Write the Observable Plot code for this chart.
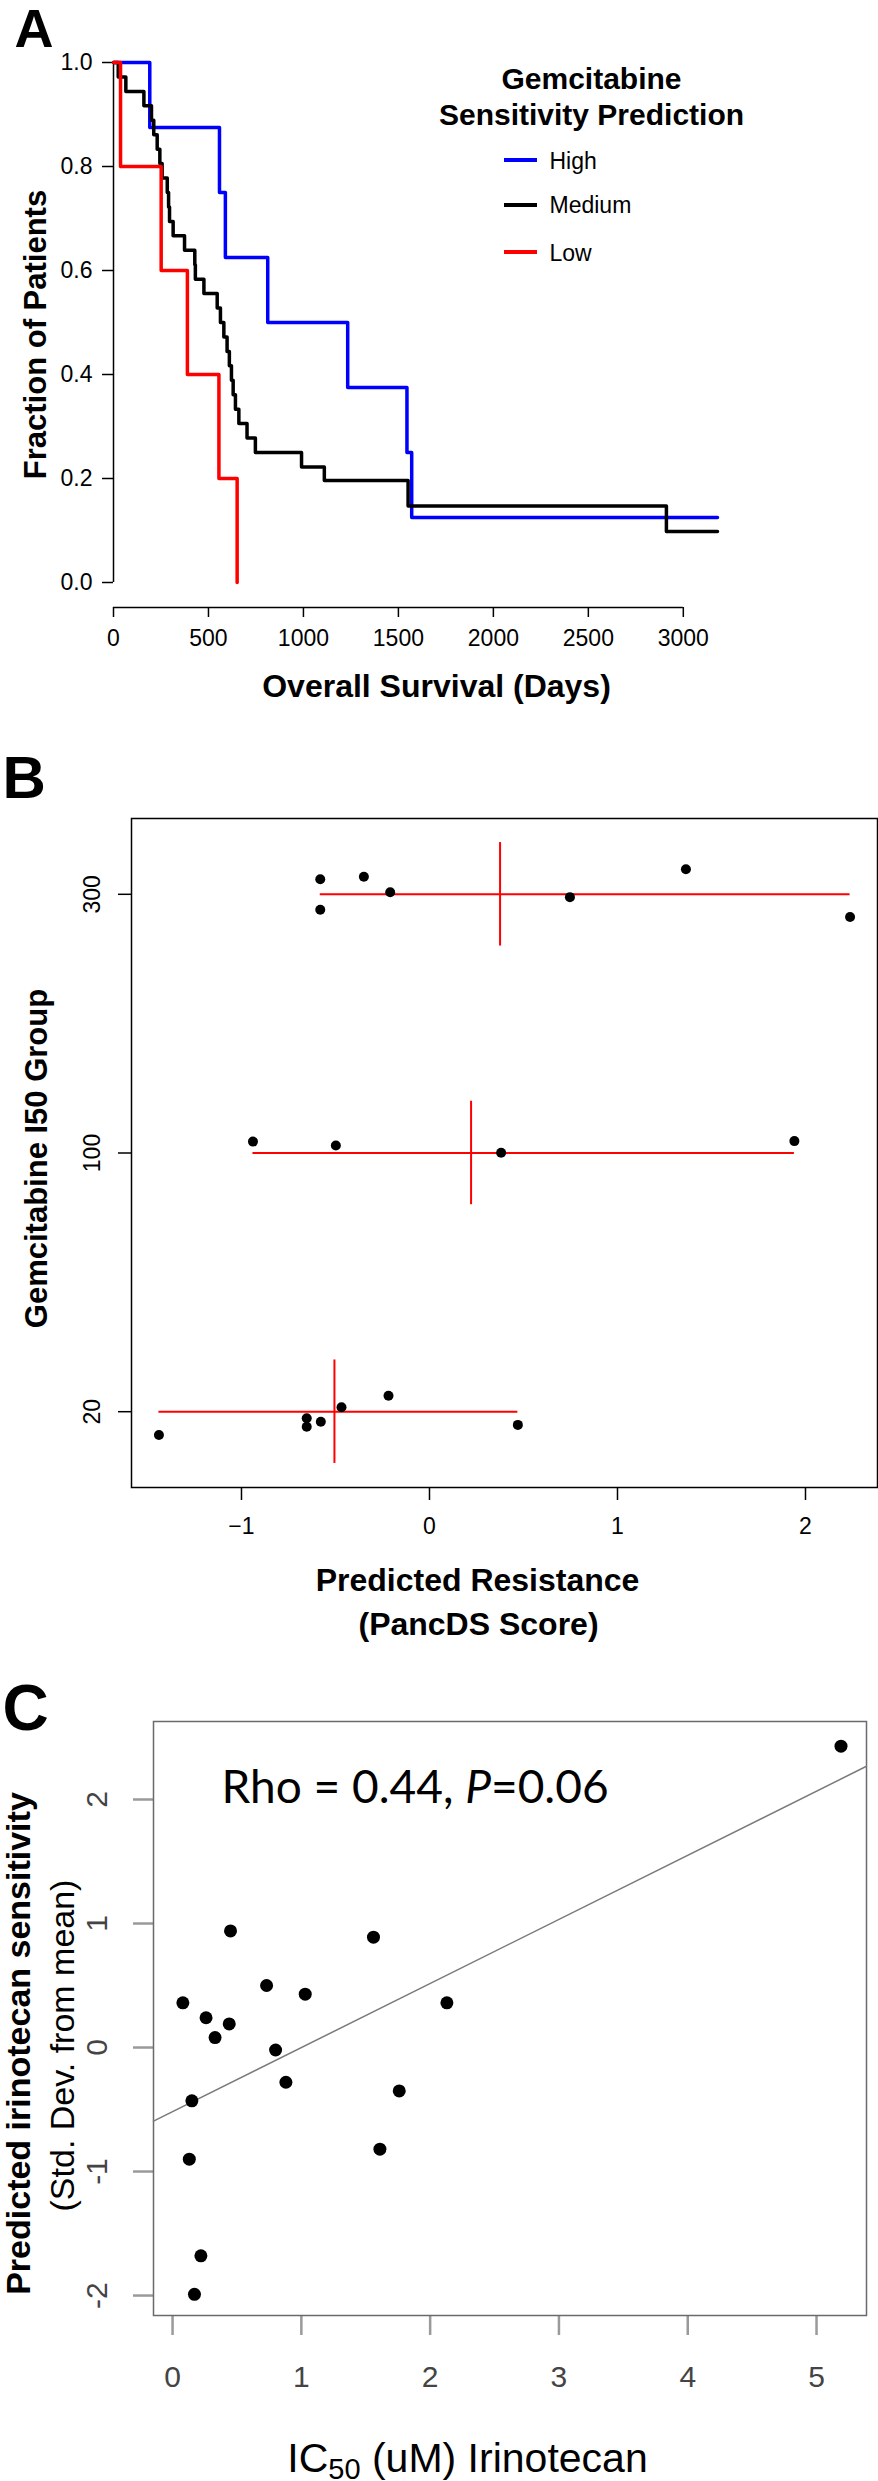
<!DOCTYPE html>
<html>
<head>
<meta charset="utf-8">
<script src="https://cdn.jsdelivr.net/npm/d3@7"></script>
<script src="https://cdn.jsdelivr.net/npm/@observablehq/plot@0.6"></script>
<style>
html, body { margin: 0; padding: 0; background: #fff; overflow: hidden; }
#page { position: relative; width: 878px; height: 2481px; overflow: hidden; background: #fff; }
.panel { position: absolute; left: 0; }
.swatch { position: absolute; height: 4px; }
</style>
</head>
<body>
<div id="page"></div>
<script>
// ---------------- Panel A: Kaplan-Meier ----------------
const kmGroups = ["High", "Medium", "Low"];
const kmColors = ["#0000ff", "#000000", "#ff0000"];
const highDays = [0, 191, 558, 589, 812, 1233, 1545, 1570, 3180];
const highSurv = [1, 0.875, 0.75, 0.625, 0.5, 0.375, 0.25, 0.125, 0.125];
const mediumDays = [0, 25, 65, 160, 200, 212, 230, 244, 256, 283, 290, 295, 314, 374, 428, 431, 476, 546, 563, 581, 598, 610, 621, 630, 642, 660, 703, 747, 990, 1110, 1551, 2911, 3180];
const mediumSurv = [1, 0.972, 0.944, 0.917, 0.889, 0.861, 0.833, 0.806, 0.778, 0.75, 0.722, 0.694, 0.667, 0.639, 0.611, 0.583, 0.556, 0.528, 0.5, 0.472, 0.444, 0.417, 0.389, 0.361, 0.333, 0.306, 0.278, 0.25, 0.222, 0.196, 0.147, 0.098, 0.098];
const lowDays = [0, 37, 251, 389, 555, 651];
const lowSurv = [1, 0.8, 0.6, 0.4, 0.2, 0];
const survivalTicks = [0, 0.2, 0.4, 0.6, 0.8, 1.0];
const dayTicks = [0, 500, 1000, 1500, 2000, 2500, 3000];

// ---------------- Panel B: Gemcitabine I50 groups ----------------
const gemGroups = ["20", "100", "300"];
const gem20Score = [-1.439, -0.653, -0.653, -0.578, -0.468, -0.218, 0.470];
const gem20Jitter = [-0.090, -0.025, -0.058, -0.039, 0.017, 0.062, -0.051];
const gem100Score = [-0.939, -0.498, 0.381, 1.941];
const gem100Jitter = [0.044, 0.029, 0.001, 0.046];
const gem300Score = [-0.581, -0.581, -0.349, -0.209, 0.747, 1.364, 2.237];
const gem300Jitter = [0.058, -0.060, 0.068, 0.008, -0.011, 0.097, -0.088];
const scoreTicks = [-1, 0, 1, 2];

// ---------------- Panel C: Irinotecan ----------------
const irinoIC50 = [0.08, 0.15, 0.13, 0.22, 0.17, 0.26, 0.33, 0.44, 0.45, 0.73, 0.80, 0.88, 1.03, 1.56, 1.61, 1.76, 2.13, 5.19];
const irinoPred = [0.36, -0.43, -0.90, -1.68, -1.99, 0.24, 0.08, 0.19, 0.94, 0.50, -0.02, -0.28, 0.43, 0.89, -0.82, -0.35, 0.36, 2.43];
const irinoXTicks = [0, 1, 2, 3, 4, 5];
const irinoYTicks = [-2, -1, 0, 1, 2];

// ---------------- helpers ----------------
const FONT = '"Liberation Sans", Arial, Helvetica, sans-serif';
const page = document.getElementById("page");
function mount(svg, top) {
  const d = document.createElement("div");
  d.className = "panel";
  d.style.top = top + "px";
  d.appendChild(svg);
  page.appendChild(d);
  return d;
}
function at(m, top, X, Y) {
  return {frameAnchor: "top-left", dx: X - m.left, dy: Y - top - m.top};
}
function label(m, top, X, Y, txt, opts) {
  return Plot.text([txt], {...at(m, top, X, Y), text: d => d, textAnchor: "middle", lineAnchor: "middle", ...opts});
}
function baseStyle() {
  return {fontFamily: FONT, fontSize: "23px", color: "#000", background: "transparent", overflow: "visible"};
}

// ================= PANEL A =================
const kmData = [];
[[highDays, highSurv], [mediumDays, mediumSurv], [lowDays, lowSurv]].forEach(([days, surv], g) => {
  days.forEach((d, i) => kmData.push({group: kmGroups[g], day: d, surv: surv[i]}));
});
const mA = {left: 113, right: 161, top: 62, bottom: 138};
const topA = 0, hA = 720;
const plotA = Plot.plot({
  width: 878, height: hA,
  marginLeft: mA.left, marginRight: mA.right, marginTop: mA.top, marginBottom: mA.bottom,
  x: {domain: [0, 3180], label: null},
  y: {domain: [0, 1], label: null},
  color: {domain: kmGroups, range: kmColors},
  style: baseStyle(),
  marks: [
    Plot.ruleX([0], {y1: 0, y2: 1, strokeWidth: 1.5}),
    Plot.axisY(survivalTicks, {tickSize: 11, tickPadding: 10, tickFormat: d => d.toFixed(1), fontSize: 23, strokeWidth: 1.5, label: null}),
    Plot.ruleY([0], {x1: 0, x2: 3000, dy: 25, strokeWidth: 1.5}),
    Plot.axisX(dayTicks, {tickSize: 10, tickPadding: 12, dy: 25, tickFormat: d => String(d), fontSize: 23, strokeWidth: 1.5, label: null}),
    Plot.line(kmData, {x: "day", y: "surv", z: "group", stroke: "group", curve: "step-after", strokeWidth: 3.5}),
    label(mA, topA, 14, 29, "A", {textAnchor: "start", fontSize: 54, fontWeight: "bold"}),
    label(mA, topA, 36, 334, "Fraction of Patients", {rotate: -90, fontSize: 31, fontWeight: "bold"}),
    label(mA, topA, 436, 686, "Overall Survival (Days)", {fontSize: 32, fontWeight: "bold"}),
    label(mA, topA, 591, 79, "Gemcitabine", {fontSize: 30, fontWeight: "bold"}),
    label(mA, topA, 591, 115, "Sensitivity Prediction", {fontSize: 30, fontWeight: "bold"}),
    label(mA, topA, 549, 161, "High", {textAnchor: "start", fontSize: 23}),
    label(mA, topA, 549, 205, "Medium", {textAnchor: "start", fontSize: 23}),
    label(mA, topA, 549, 253, "Low", {textAnchor: "start", fontSize: 23})
  ]
});
mount(plotA, topA);
[[160, kmColors[0]], [205, kmColors[1]], [252, kmColors[2]]].forEach(([y, c]) => {
  const s = document.createElement("div");
  s.className = "swatch";
  s.style.left = "504px"; s.style.width = "33px"; s.style.top = (y - 2) + "px"; s.style.background = c;
  page.appendChild(s);
});

// ================= PANEL B =================
const gemPoints = [];
[[gem20Score, gem20Jitter], [gem100Score, gem100Jitter], [gem300Score, gem300Jitter]].forEach(([sc, jt], g) => {
  sc.forEach((s, i) => gemPoints.push({group: gemGroups[g], idx: g + 1, score: s, jitter: jt[i]}));
});
const gemStats = gemGroups.map((grp, g) => {
  const vals = gemPoints.filter(p => p.idx === g + 1).map(p => p.score);
  return {idx: g + 1, min: d3.min(vals), max: d3.max(vals), mean: d3.mean(vals)};
});
const mB = {left: 131, right: 1, top: 78, bottom: 183};
const topB = 740, hB = 930;
const plotB = Plot.plot({
  width: 878, height: hB,
  marginLeft: mB.left, marginRight: mB.right, marginTop: mB.top, marginBottom: mB.bottom,
  x: {domain: [-1.585, 2.383], label: null},
  y: {domain: [0.707, 3.293], label: null},
  style: baseStyle(),
  marks: [
    Plot.frame({stroke: "#000", strokeWidth: 1.5}),
    Plot.axisX(scoreTicks, {tickSize: 13, tickPadding: 17, tickFormat: d => d < 0 ? "\u2212" + Math.abs(d) : String(d), fontSize: 23, strokeWidth: 1.5, label: null}),
    Plot.axisY(gemGroups.map((g, i) => i + 1), {tickSize: 13, tickFormat: () => "", strokeWidth: 1.5, label: null}),
    Plot.text(gemGroups, {y: (d, i) => i + 1, text: d => d, frameAnchor: "left", dx: -39, rotate: -90, textAnchor: "middle", lineAnchor: "middle", fontSize: 23}),
    Plot.ruleY(gemStats, {y: "idx", x1: "min", x2: "max", stroke: "#ff0000", strokeWidth: 2}),
    Plot.ruleX(gemStats, {x: "mean", y1: d => d.idx - 0.2, y2: d => d.idx + 0.2, stroke: "#ff0000", strokeWidth: 2}),
    Plot.dot(gemPoints, {x: "score", y: d => d.idx + d.jitter, r: 5, fill: "#000", stroke: null}),
    label(mB, topB, 2, 778, "B", {textAnchor: "start", fontSize: 60, fontWeight: "bold"}),
    label(mB, topB, 37, 1158, "Gemcitabine I50 Group", {rotate: -90, fontSize: 31, fontWeight: "bold"}),
    label(mB, topB, 477, 1580, "Predicted Resistance", {fontSize: 32, fontWeight: "bold"}),
    label(mB, topB, 478, 1624, "(PancDS Score)", {fontSize: 32, fontWeight: "bold"})
  ]
});
mount(plotB, topB);

// ================= PANEL C =================
const irinoPoints = irinoIC50.map((x, i) => ({ic50: x, pred: irinoPred[i]}));
const xDomC = [-0.148, 5.388];
const mx = d3.mean(irinoIC50), my = d3.mean(irinoPred);
const slope = d3.sum(irinoIC50, (x, i) => (x - mx) * (irinoPred[i] - my)) / d3.sum(irinoIC50, x => (x - mx) ** 2);
const intercept = my - slope * mx;
const fitLine = xDomC.map(x => ({x, y: intercept + slope * x}));
const mC = {left: 153, right: 12, top: 51, bottom: 166};
const topC = 1670, hC = 811;
const plotC = Plot.plot({
  width: 878, height: hC,
  marginLeft: mC.left, marginRight: mC.right, marginTop: mC.top, marginBottom: mC.bottom,
  x: {domain: xDomC, label: null},
  y: {domain: [-2.161, 2.629], label: null},
  style: baseStyle(),
  marks: [
    Plot.axisX(irinoXTicks, {tickSize: 20, tickPadding: 30, stroke: "#9a9a9a", fill: "#444", strokeWidth: 2.5, fontSize: 30, tickFormat: d => String(d), label: null}),
    Plot.axisY(irinoYTicks, {tickSize: 20, tickFormat: () => "", stroke: "#9a9a9a", strokeWidth: 2.5, label: null}),
    Plot.text(irinoYTicks, {y: d => d, text: d => String(d), frameAnchor: "left", dx: -56, rotate: -90, textAnchor: "middle", lineAnchor: "middle", fontSize: 30, fill: "#444"}),
    Plot.frame({stroke: "#6a6a6a", strokeWidth: 1.5}),
    Plot.line(fitLine, {x: "x", y: "y", stroke: "#7a7a7a", strokeWidth: 1.5}),
    Plot.dot(irinoPoints, {x: "ic50", y: "pred", r: 6.5, fill: "#000", stroke: null}),
    label(mC, topC, 2, 1709, "C", {textAnchor: "start", fontSize: 64, fontWeight: "bold"}),
    label(mC, topC, 221, 1802, "Rho = 0.44, P=0.06", {textAnchor: "start", lineAnchor: "bottom", fontSize: 46, fontFamily: "Lato, 'Open Sans', sans-serif"}),
    label(mC, topC, 19, 2043, "Predicted irinotecan sensitivity", {rotate: -90, fontSize: 34, fontWeight: "bold"}),
    label(mC, topC, 63, 2045, "(Std. Dev. from mean)", {rotate: -90, fontSize: 34}),
    label(mC, topC, 467, 2471, "IC50 (uM) Irinotecan", {lineAnchor: "bottom", fontSize: 41})
  ]
});
mount(plotC, topC);
plotC.querySelectorAll("text").forEach(t => {
  if (t.textContent === "Rho = 0.44, P=0.06") {
    t.innerHTML = 'Rho = 0.44, <tspan font-style="italic">P</tspan>=0.06';
  } else if (t.textContent === "IC50 (uM) Irinotecan") {
    t.innerHTML = 'IC<tspan font-size="29" dy="7">50</tspan><tspan dy="-7"> (uM) Irinotecan</tspan>';
  }
});
</script>
</body>
</html>
